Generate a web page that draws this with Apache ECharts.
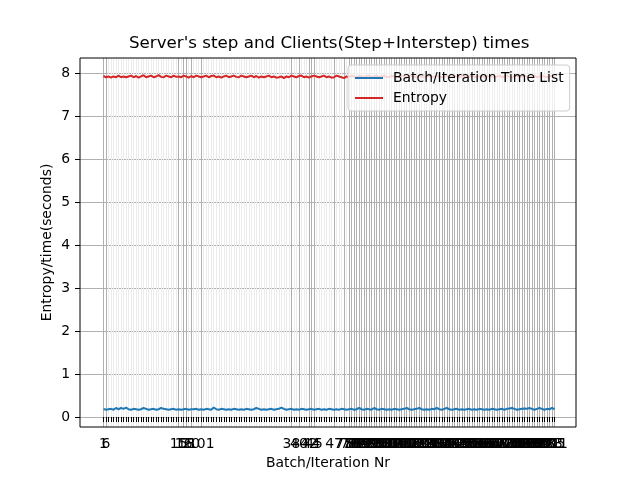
<!DOCTYPE html>
<html>
<head>
<meta charset="utf-8">
<script src="https://cdn.jsdelivr.net/npm/echarts@6/dist/echarts.min.js"></script>
<style>html,body{margin:0;padding:0;background:#fff}#c{width:640px;height:480px}</style>
</head>
<body>
<div id="c"></div>
<script>
// ---- data ----
const batchTimes = [
0.19,0.17,0.18,0.19,0.17,0.21,0.18,0.21,0.19,0.22,
0.18,0.17,0.19,0.18,0.17,0.18,0.21,0.19,0.17,0.18,
0.19,0.17,0.18,0.21,0.19,0.18,0.17,0.18,0.19,0.17,
0.18,0.17,0.18,0.19,0.17,0.18,0.18,0.19,0.17,0.18,
0.17,0.19,0.18,0.17,0.22,0.18,0.17,0.19,0.18,0.17,
0.18,0.17,0.19,0.18,0.17,0.18,0.17,0.19,0.18,0.17,
0.18,0.21,0.19,0.17,0.18,0.17,0.18,0.19,0.17,0.18,
0.19,0.22,0.19,0.17,0.18,0.19,0.17,0.18,0.17,0.19,
0.18,0.17,0.18,0.19,0.17,0.18,0.19,0.17,0.18,0.17,
0.19,0.18,0.17,0.18,0.17,0.19,0.18,0.17,0.18,0.19,
0.17,0.18,0.21,0.18,0.17,0.19,0.18,0.17,0.21,0.18,
0.17,0.19,0.18,0.17,0.18,0.17,0.19,0.18,0.17,0.18,
0.19,0.21,0.18,0.17,0.18,0.19,0.21,0.18,0.17,0.18,
0.17,0.19,0.18,0.21,0.18,0.17,0.19,0.21,0.18,0.17,
0.18,0.19,0.17,0.18,0.17,0.18,0.19,0.17,0.18,0.17,
0.19,0.18,0.17,0.18,0.17,0.19,0.18,0.17,0.18,0.19,
0.17,0.19,0.20,0.21,0.19,0.17,0.18,0.19,0.20,0.19,
0.21,0.19,0.17,0.19,0.21,0.19,0.17,0.19,0.18,0.21,
0.18];
const entropy = [
7.93,7.90,7.92,7.89,7.92,7.90,7.94,7.90,7.92,7.90,
7.92,7.94,7.90,7.93,7.89,7.92,7.95,7.90,7.92,7.94,
7.90,7.92,7.95,7.91,7.90,7.94,7.92,7.90,7.94,7.91,
7.92,7.90,7.94,7.92,7.89,7.93,7.90,7.94,7.92,7.90,
7.92,7.94,7.90,7.93,7.94,7.90,7.92,7.89,7.92,7.94,
7.90,7.92,7.94,7.91,7.90,7.94,7.92,7.90,7.92,7.94,
7.90,7.93,7.89,7.92,7.90,7.92,7.94,7.90,7.92,7.89,
7.90,7.92,7.88,7.92,7.90,7.94,7.92,7.90,7.93,7.94,
7.90,7.92,7.89,7.92,7.94,7.92,7.90,7.92,7.94,7.90,
7.92,7.89,7.90,7.94,7.92,7.90,7.88,7.92,7.90,7.94,
7.92,7.90,7.94,7.92,7.90,7.93,7.94,7.90,7.92,7.94,
7.90,7.92,7.94,7.91,7.90,7.94,7.92,7.90,7.92,7.94,
7.92,7.90,7.93,7.94,7.90,7.92,7.94,7.91,7.90,7.92,
7.94,7.90,7.92,7.94,7.92,7.90,7.92,7.94,7.90,7.92,
7.94,7.92,7.90,7.93,7.94,7.90,7.92,7.94,7.92,7.90,
7.92,7.94,7.90,7.92,7.94,7.91,7.90,7.92,7.94,7.90,
7.92,7.94,7.92,7.90,7.93,7.94,7.90,7.92,7.94,7.92,
7.90,7.92,7.94,7.90,7.92,7.94,7.92,7.90,7.92,7.94,
7.92];
// labelled tick positions (category index) and their texts
const sparseTickIdx  = [0, 1, 30, 32, 33, 35, 39, 75, 78, 82, 83, 84, 92, 96];
const sparseTickText = ["1","6","15","16","18","20","101","38","40","42","44","45","47","75"];
const denseStartIdx = 98;
const denseTickText = [
"77","79","80","82","84","85","87","88","90","91",
"93","95","96","98","99","101","102","104","106","107",
"109","110","112","113","115","117","118","120","121","123",
"124","126","128","129","131","132","134","135","137","139",
"140","142","143","145","146","148","150","151","153","154",
"156","157","159","161","162","164","165","167","168","170",
"172","173","175","176","178","179","181","183","184","186",
"187","189","190","192","194","195","197","198","200","201",
"203","205","211"];
const yTicks = [0,1,2,3,4,5,6,7,8];

// ---- build ----
const N = batchTimes.length;
const cats = batchTimes.map((_, i) => String(i + 1));
const labels = new Array(N).fill('');
sparseTickIdx.forEach((k, j) => { labels[k] = sparseTickText[j]; });
denseTickText.forEach((t, j) => { labels[denseStartIdx + j] = t; });

const FONT = 'DejaVu Sans';
const chart = echarts.init(document.getElementById('c'), null, {renderer: 'canvas'});
const pxPerUnit = 344 / 8;
chart.setOption({
  animation: false,
  backgroundColor: '#fff',
  textStyle: {fontFamily: FONT},
  title: {
    text: "Server's step and Clients(Step+Interstep) times",
    left: 129, top: 35, padding: 0,
    textStyle: {fontFamily: FONT, fontSize: 16.7, fontWeight: 'normal', color: '#000'}
  },
  legend: {
    orient: 'vertical', left: 348, top: 65,
    padding: [6, 6, 6, 6], itemGap: 6, itemWidth: 28, itemHeight: 14,
    backgroundColor: 'rgba(255,255,255,0.8)', borderColor: '#cccccc', borderWidth: 1, borderRadius: 3,
    itemStyle: {opacity: 0, borderWidth: 0},
    textStyle: {fontFamily: FONT, fontSize: 13.9, color: '#000', padding: [0, 0, 0, 5]},
    data: ['Batch/Iteration Time List', 'Entropy']
  },
  grid: [
    {left: 80, right: 64, top: 73, bottom: 63},
    {left: 80, right: 64, top: 58, bottom: 53, show: true, borderColor: '#000', borderWidth: 1, backgroundColor: 'transparent', z: 3},
    {left: 103.5, right: 85.5, top: 58, bottom: 53}
  ],
  xAxis: [
    {gridIndex: 0, type: 'value', show: false, min: 0, max: 1},
    {gridIndex: 1, type: 'value', min: 0, max: 1, position: 'bottom',
     axisLine: {show: false}, axisTick: {show: false}, axisLabel: {show: false}, splitLine: {show: false},
     name: 'Batch/Iteration Nr', nameLocation: 'middle', nameGap: 29,
     nameTextStyle: {fontFamily: FONT, fontSize: 13.9, color: '#000'}},
    {gridIndex: 2, type: 'category', data: cats, boundaryGap: false, position: 'bottom',
     axisLine: {show: false},
     axisTick: {show: true, interval: 0, length: 5, lineStyle: {color: '#000', width: 1}},
     axisLabel: {show: false},
     splitLine: {show: true, interval: 0, lineStyle: {color: '#ececec', width: 1}}},
    {gridIndex: 2, type: 'category', data: labels, boundaryGap: false, position: 'bottom', offset: 0,
     axisLine: {show: false}, axisTick: {show: false},
     axisLabel: {show: true, interval: 0, margin: 10, hideOverlap: false,
                 fontFamily: FONT, fontSize: 13.9, color: '#000'},
     splitLine: {show: true, interval: (i) => labels[i] !== '', lineStyle: {color: '#b0b0b0', width: 1}}}
  ],
  yAxis: [
    {gridIndex: 0, type: 'value', min: yTicks[0], max: yTicks[yTicks.length - 1], interval: 1,
     axisLine: {show: false},
     axisTick: {show: true, length: 5, lineStyle: {color: '#000', width: 1}},
     axisLabel: {margin: 10, fontFamily: FONT, fontSize: 13.9, color: '#000'},
     splitLine: {show: true, lineStyle: {color: '#b0b0b0', width: 1}}},
    {gridIndex: 1, type: 'value', min: 0, max: 1,
     axisLine: {show: false}, axisTick: {show: false}, axisLabel: {show: false}, splitLine: {show: false},
     name: 'Entropy/time(seconds)', nameLocation: 'middle', nameGap: 26,
     nameTextStyle: {fontFamily: FONT, fontSize: 13.9, color: '#000'}},
    {gridIndex: 2, type: 'value', show: false,
     min: -10 / pxPerUnit, max: 8 + 15 / pxPerUnit}
  ],
  series: [
    {name: 'Batch/Iteration Time List', type: 'line', xAxisIndex: 2, yAxisIndex: 2,
     data: batchTimes, symbol: 'none', showSymbol: false, z: 2,
     lineStyle: {color: '#1f77b4', width: 2}, itemStyle: {color: '#1f77b4'}},
    {name: 'Entropy', type: 'line', xAxisIndex: 2, yAxisIndex: 2,
     data: entropy, symbol: 'none', showSymbol: false, z: 2,
     lineStyle: {color: '#d62728', width: 2}, itemStyle: {color: '#d62728'}}
  ]
});
</script>
</body>
</html>
